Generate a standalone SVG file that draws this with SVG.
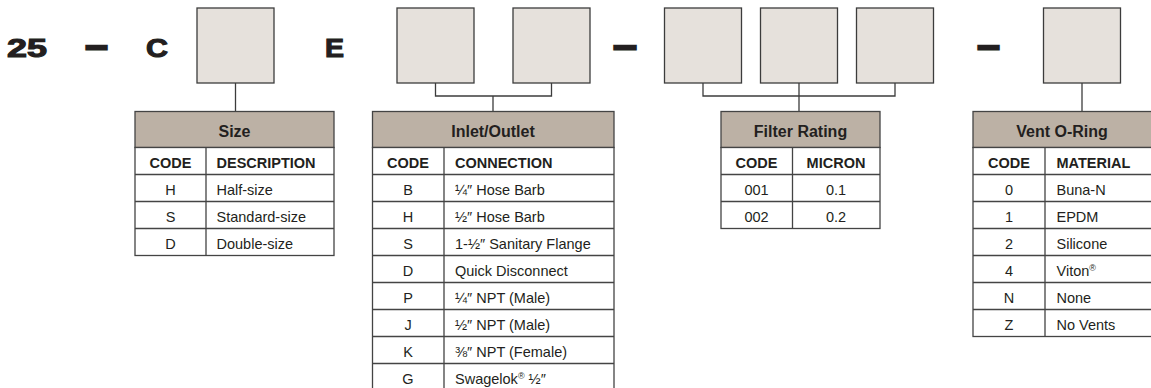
<svg xmlns="http://www.w3.org/2000/svg" width="1151" height="388" viewBox="0 0 1151 388">
  <style>
    .big { font-family: "Liberation Sans", Arial, sans-serif; font-weight: 900; font-size: 26px; fill: #231f20; stroke: #231f20; stroke-width: 1.1px; }
    .dash { font-family: "Liberation Sans", Arial, sans-serif; font-weight: 700; font-size: 26px; fill: #231f20; stroke: #231f20; stroke-width: 3.2px; }
    .slot { fill: #e6e1dc; stroke: #3c3c3c; stroke-width: 1.3px; }
    .link { fill: none; stroke: #3c3c3c; stroke-width: 1.3px; }
    .head { fill: #bcb1a5; stroke: #444; stroke-width: 1.3px; }
    .cell { fill: #ffffff; stroke: #444; stroke-width: 1.3px; }
    .grid { stroke: #444; stroke-width: 1.3px; }
    .title { font-family: "Liberation Sans", Arial, sans-serif; font-weight: 700; font-size: 16px; fill: #231f20; text-anchor: middle; }
    .colh { font-family: "Liberation Sans", Arial, sans-serif; font-weight: 700; font-size: 14.5px; fill: #231f20; }
    .txt { font-family: "Liberation Sans", Arial, sans-serif; font-size: 14.5px; fill: #231f20; }
    .mid { text-anchor: middle; }
    .sup { font-size: 9px; }
  </style>

  <!-- part number prefix -->
  <g id="prefix">
    <text class="big" x="7" y="57" textLength="40" lengthAdjust="spacingAndGlyphs">25</text>
    <text class="dash" x="86.5" y="55.3" textLength="20" lengthAdjust="spacingAndGlyphs">—</text>
    <text class="big" x="146" y="57" textLength="22" lengthAdjust="spacingAndGlyphs">C</text>
    <text class="big" x="325" y="57" textLength="19" lengthAdjust="spacingAndGlyphs">E</text>
    <text class="dash" x="614.5" y="55.3" textLength="21" lengthAdjust="spacingAndGlyphs">—</text>
    <text class="dash" x="978.5" y="55.3" textLength="20" lengthAdjust="spacingAndGlyphs">—</text>
  </g>

  <!-- code slots -->
  <g id="slot-size"><rect class="slot" x="197" y="8" width="77" height="75"/></g>
  <g id="slot-inlet"><rect class="slot" x="397" y="8" width="77" height="75"/></g>
  <g id="slot-outlet"><rect class="slot" x="513" y="8" width="77" height="75"/></g>
  <g id="slot-filter-1"><rect class="slot" x="664.5" y="8" width="77" height="75"/></g>
  <g id="slot-filter-2"><rect class="slot" x="760.5" y="8" width="77" height="75"/></g>
  <g id="slot-filter-3"><rect class="slot" x="856.5" y="8" width="77" height="75"/></g>
  <g id="slot-vent"><rect class="slot" x="1043.5" y="8" width="77" height="75"/></g>

  <!-- connectors from slots to tables -->
  <g id="connectors">
    <path class="link" d="M235.5 83 V111.5"/>
    <path class="link" d="M435.5 83 V96 H551.5 V83 M493 96 V111.5"/>
    <path class="link" d="M703 83 V96 H895 V83 M799 83 V111.5"/>
    <path class="link" d="M1082 83 V111.5"/>
  </g>

  <!-- Size table -->
  <g id="table-size">
    <rect class="head" x="135" y="111.5" width="199" height="36"/>
    <rect class="cell" x="135" y="147.5" width="199" height="108"/>
    <path class="grid" d="M206 147.5 V255.5 M135 174.5 H334 M135 201.5 H334 M135 228.5 H334"/>
    <text class="title" x="234.5" y="136.5">Size</text>
    <text class="colh mid" x="170.5" y="167.5">CODE</text>
    <text class="colh" x="216.5" y="167.5">DESCRIPTION</text>
    <text class="txt mid" x="170.5" y="194.5">H</text>
    <text class="txt" x="216.5" y="194.5">Half-size</text>
    <text class="txt mid" x="170.5" y="221.5">S</text>
    <text class="txt" x="216.5" y="221.5">Standard-size</text>
    <text class="txt mid" x="170.5" y="248.5">D</text>
    <text class="txt" x="216.5" y="248.5">Double-size</text>
  </g>

  <!-- Inlet/Outlet table -->
  <g id="table-inlet-outlet">
    <rect class="head" x="372.5" y="111.5" width="241.5" height="36"/>
    <rect class="cell" x="372.5" y="147.5" width="241.5" height="243"/>
    <path class="grid" d="M444 147.5 V390 M372.5 174.5 H614 M372.5 201.5 H614 M372.5 228.5 H614 M372.5 255.5 H614 M372.5 282.5 H614 M372.5 309.5 H614 M372.5 336.5 H614 M372.5 363.5 H614"/>
    <text class="title" x="493" y="136.5">Inlet/Outlet</text>
    <text class="colh mid" x="408" y="167.5">CODE</text>
    <text class="colh" x="455" y="167.5">CONNECTION</text>
    <text class="txt mid" x="408" y="194.5">B</text>
    <text class="txt" x="455" y="194.5">¼″ Hose Barb</text>
    <text class="txt mid" x="408" y="221.5">H</text>
    <text class="txt" x="455" y="221.5">½″ Hose Barb</text>
    <text class="txt mid" x="408" y="248.5">S</text>
    <text class="txt" x="455" y="248.5">1-½″ Sanitary Flange</text>
    <text class="txt mid" x="408" y="275.5">D</text>
    <text class="txt" x="455" y="275.5">Quick Disconnect</text>
    <text class="txt mid" x="408" y="302.5">P</text>
    <text class="txt" x="455" y="302.5">¼″ NPT (Male)</text>
    <text class="txt mid" x="408" y="329.5">J</text>
    <text class="txt" x="455" y="329.5">½″ NPT (Male)</text>
    <text class="txt mid" x="408" y="356.5">K</text>
    <text class="txt" x="455" y="356.5">⅜″ NPT (Female)</text>
    <text class="txt mid" x="408" y="383.5">G</text>
    <text class="txt" x="455" y="383.5">Swagelok<tspan class="sup" dy="-5">®</tspan><tspan dy="5"> ½″</tspan></text>
  </g>

  <!-- Filter Rating table -->
  <g id="table-filter">
    <rect class="head" x="721" y="111.5" width="159" height="36"/>
    <rect class="cell" x="721" y="147.5" width="159" height="81"/>
    <path class="grid" d="M792.5 147.5 V228.5 M721 174.5 H880 M721 201.5 H880"/>
    <text class="title" x="800.5" y="136.5">Filter Rating</text>
    <text class="colh mid" x="756.5" y="167.5">CODE</text>
    <text class="colh mid" x="836" y="167.5">MICRON</text>
    <text class="txt mid" x="756.5" y="194.5">001</text>
    <text class="txt mid" x="836" y="194.5">0.1</text>
    <text class="txt mid" x="756.5" y="221.5">002</text>
    <text class="txt mid" x="836" y="221.5">0.2</text>
  </g>

  <!-- Vent O-Ring table -->
  <g id="table-vent">
    <rect class="head" x="973" y="111.5" width="180" height="36"/>
    <rect class="cell" x="973" y="147.5" width="180" height="189"/>
    <path class="grid" d="M1045 147.5 V336.5 M973 174.5 H1153 M973 201.5 H1153 M973 228.5 H1153 M973 255.5 H1153 M973 282.5 H1153 M973 309.5 H1153"/>
    <text class="title" x="1062" y="136.5">Vent O-Ring</text>
    <text class="colh mid" x="1009" y="167.5">CODE</text>
    <text class="colh" x="1056.5" y="167.5">MATERIAL</text>
    <text class="txt mid" x="1009" y="194.5">0</text>
    <text class="txt" x="1056.5" y="194.5">Buna-N</text>
    <text class="txt mid" x="1009" y="221.5">1</text>
    <text class="txt" x="1056.5" y="221.5">EPDM</text>
    <text class="txt mid" x="1009" y="248.5">2</text>
    <text class="txt" x="1056.5" y="248.5">Silicone</text>
    <text class="txt mid" x="1009" y="275.5">4</text>
    <text class="txt" x="1056.5" y="275.5">Viton<tspan class="sup" dy="-5">®</tspan></text>
    <text class="txt mid" x="1009" y="302.5">N</text>
    <text class="txt" x="1056.5" y="302.5">None</text>
    <text class="txt mid" x="1009" y="329.5">Z</text>
    <text class="txt" x="1056.5" y="329.5">No Vents</text>
  </g>
</svg>
